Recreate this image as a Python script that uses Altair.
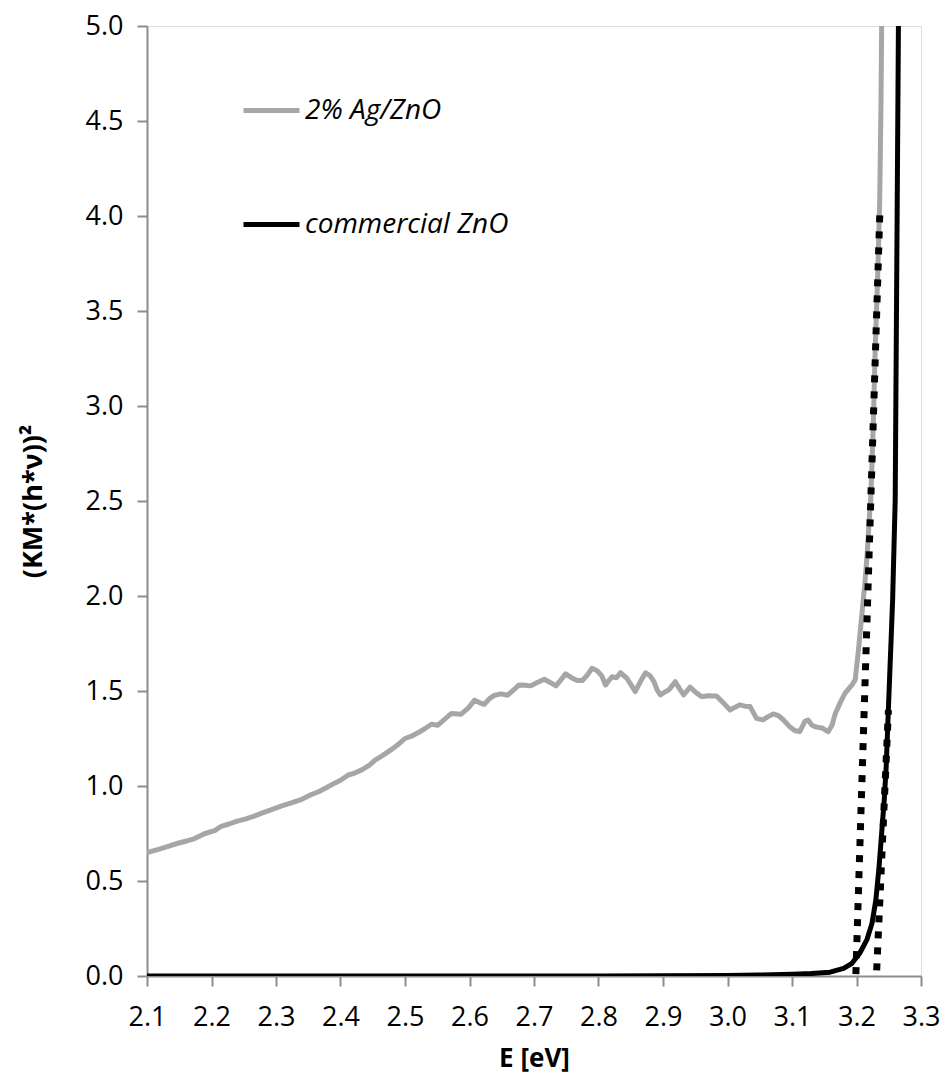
import altair as alt
import pandas as pd

# 2% Ag/ZnO: Tauc plot (KM*(h*nu))^2 versus photon energy
ag_e = [2.100, 2.119, 2.134, 2.149, 2.163, 2.173, 2.190, 2.205, 2.215, 2.227,
        2.240, 2.252, 2.265, 2.278, 2.290, 2.309, 2.325, 2.340, 2.355, 2.366,
        2.380, 2.391, 2.400, 2.412, 2.422, 2.433, 2.445, 2.453, 2.465, 2.478,
        2.490, 2.500, 2.510, 2.520, 2.530, 2.541, 2.551, 2.561, 2.572, 2.587,
        2.598, 2.608, 2.616, 2.623, 2.631, 2.639, 2.649, 2.659, 2.668, 2.677,
        2.686, 2.695, 2.705, 2.716, 2.725, 2.734, 2.742, 2.749, 2.758, 2.767,
        2.775, 2.783, 2.790, 2.798, 2.805, 2.811, 2.816, 2.821, 2.828, 2.834,
        2.844, 2.851, 2.857, 2.865, 2.873, 2.880, 2.886, 2.891, 2.896, 2.903,
        2.909, 2.919, 2.925, 2.932, 2.942, 2.950, 2.960, 2.970, 2.983, 2.993,
        3.004, 3.012, 3.019, 3.027, 3.035, 3.045, 3.055, 3.063, 3.071, 3.079,
        3.086, 3.097, 3.104, 3.112, 3.120, 3.125, 3.131, 3.138, 3.147, 3.156,
        3.162, 3.167, 3.175, 3.182, 3.193, 3.198, 3.203, 3.208, 3.213, 3.217,
        3.220, 3.222, 3.226, 3.229, 3.233, 3.236, 3.238, 3.239, 3.240]
ag_km = [0.650, 0.668, 0.684, 0.700, 0.712, 0.722, 0.750, 0.765, 0.788, 0.800,
         0.815, 0.826, 0.840, 0.857, 0.872, 0.895, 0.912, 0.930, 0.955, 0.970,
         0.995, 1.015, 1.030, 1.058, 1.068, 1.085, 1.110, 1.135, 1.160, 1.190,
         1.220, 1.250, 1.262, 1.280, 1.300, 1.325, 1.320, 1.350, 1.382, 1.378,
         1.410, 1.452, 1.438, 1.430, 1.460, 1.478, 1.485, 1.478, 1.505, 1.532,
         1.530, 1.527, 1.545, 1.562, 1.545, 1.527, 1.560, 1.590, 1.570, 1.555,
         1.555, 1.585, 1.620, 1.607, 1.580, 1.532, 1.555, 1.575, 1.570, 1.596,
         1.567, 1.530, 1.497, 1.550, 1.596, 1.580, 1.549, 1.505, 1.479, 1.495,
         1.506, 1.549, 1.515, 1.479, 1.520, 1.495, 1.470, 1.475, 1.474, 1.440,
         1.400, 1.415, 1.427, 1.420, 1.418, 1.356, 1.348, 1.365, 1.379, 1.370,
         1.350, 1.310, 1.292, 1.286, 1.340, 1.347, 1.320, 1.310, 1.305, 1.286,
         1.320, 1.380, 1.440, 1.488, 1.532, 1.558, 1.716, 1.891, 2.067, 2.242,
         2.417, 2.505, 2.900, 3.300, 3.700, 4.080, 4.600, 5.000, 5.300]

# commercial ZnO
com_e = [2.100, 2.800, 2.900, 3.000, 3.050, 3.100, 3.130, 3.159, 3.180, 3.193,
         3.205, 3.216, 3.224, 3.230, 3.235, 3.239, 3.243, 3.246, 3.248, 3.250,
         3.252, 3.254, 3.256, 3.258, 3.260, 3.262, 3.265, 3.266]
com_km = [0.000, 0.000, 0.001, 0.003, 0.005, 0.009, 0.013, 0.020, 0.040, 0.067,
          0.120, 0.190, 0.277, 0.400, 0.575, 0.751, 0.926, 1.100, 1.277, 1.453,
          1.628, 1.800, 1.979, 2.242, 2.505, 3.500, 5.000, 5.300]

# linear extrapolations of the absorption edges
tan_ag_e = [3.199, 3.2365]
tan_ag_km = [0.01, 4.05]
tan_com_e = [3.2313, 3.2495]
tan_com_km = [0.03, 1.40]

names = ["2% Ag/ZnO", "commercial ZnO"]
colors = ["#a6a6a6", "#000000"]

x_ticks = [2.1, 2.2, 2.3, 2.4, 2.5, 2.6, 2.7, 2.8, 2.9, 3.0, 3.1, 3.2, 3.3]
y_ticks = [0.0, 0.5, 1.0, 1.5, 2.0, 2.5, 3.0, 3.5, 4.0, 4.5, 5.0]

FONT = "Open Sans"
AXIS_GREY = "#8c8c8c"

curves = pd.DataFrame({
    "E": ag_e + com_e,
    "KM": ag_km + com_km,
    "sample": [names[0]] * len(ag_e) + [names[1]] * len(com_e),
    "idx": list(range(len(ag_e))) + list(range(len(com_e))),
})

tangents = pd.DataFrame({
    "E": tan_ag_e + tan_com_e,
    "KM": tan_ag_km + tan_com_km,
    "fit": ["ag", "ag", "com", "com"],
    "idx": [0, 1, 0, 1],
})

x_enc = alt.X(
    "E:Q",
    scale=alt.Scale(domain=[2.1, 3.3], nice=False, zero=False),
    axis=alt.Axis(
        title="E [eV]", values=x_ticks, format=".1f",
        labelFlush=False, labelOverlap=False, grid=False,
        labelFont=FONT, labelFontSize=27, labelColor="black", labelPadding=18,
        tickSize=10, tickWidth=2, tickColor=AXIS_GREY,
        domainColor=AXIS_GREY, domainWidth=2,
        titleFont=FONT, titleFontSize=26, titleFontWeight="bold",
        titleColor="black", titlePadding=15,
    ),
)
y_enc = alt.Y(
    "KM:Q",
    scale=alt.Scale(domain=[0, 5], nice=False),
    axis=alt.Axis(
        title="(KM*(h*ν))²", values=y_ticks, format=".1f",
        labelFlush=False, labelOverlap=False, grid=False,
        labelFont=FONT, labelFontSize=27, labelColor="black", labelPadding=14,
        tickSize=10, tickWidth=2, tickColor=AXIS_GREY,
        domainColor=AXIS_GREY, domainWidth=2,
        titleFont=FONT, titleFontSize=27, titleFontWeight="bold",
        titleColor="black", titlePadding=38,
    ),
)

lines = alt.Chart(curves).mark_line(strokeWidth=5, clip=True, strokeJoin="round").encode(
    x=x_enc,
    y=y_enc,
    order="idx:Q",
    color=alt.Color(
        "sample:N",
        scale=alt.Scale(domain=names, range=colors),
        legend=alt.Legend(
            title=None, orient="none", legendX=94, legendY=54, padding=0,
            symbolType="stroke", symbolSize=3136, symbolStrokeWidth=5,
            labelFont=FONT, labelFontSize=28, labelFontStyle="italic",
            labelColor="black", labelOffset=3, labelLimit=0, rowPadding=69,
        ),
    ),
)

fits = alt.Chart(tangents).mark_line(
    strokeWidth=7, strokeDash=[7, 9], color="black", clip=True
).encode(
    x="E:Q",
    y="KM:Q",
    detail="fit:N",
    order="idx:Q",
)

chart = alt.layer(lines, fits).properties(
    width=774,
    height=950,
    padding={"left": 147, "top": 26, "right": 25, "bottom": 104},
    autosize=alt.AutoSizeParams(type="none"),
).configure_view(
    stroke=AXIS_GREY, strokeWidth=2
).configure(background="white")

chart.save("out.html", embed_options={"renderer": "svg", "actions": False})
